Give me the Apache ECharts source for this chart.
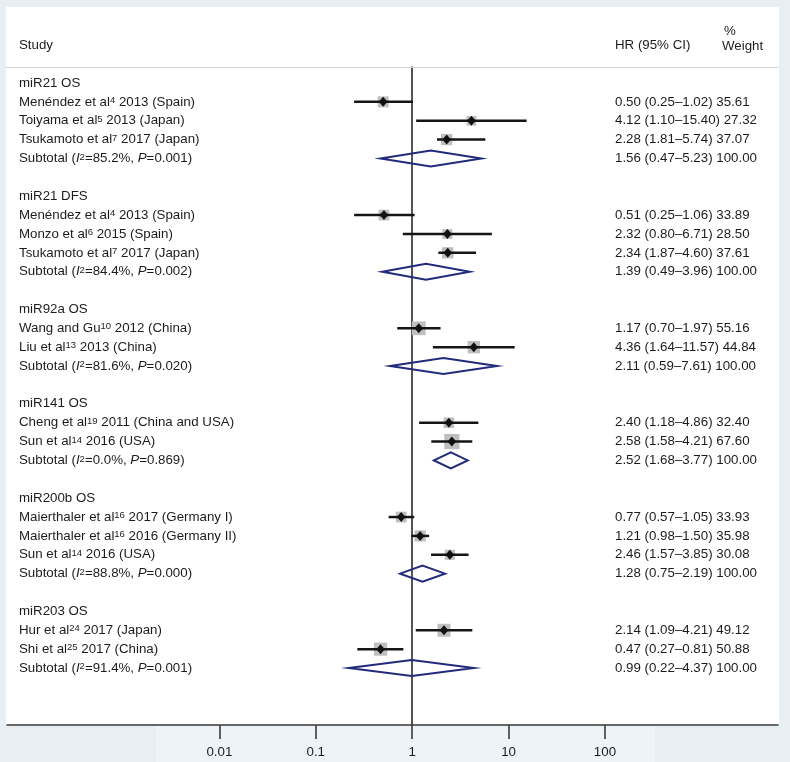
<!DOCTYPE html>
<html>
<head>
<meta charset="utf-8">
<script src="https://cdn.jsdelivr.net/npm/echarts@6.0.0/dist/echarts.min.js"></script>
<style>
html,body{margin:0;padding:0;background:#e8eff2;}
#chart{width:790px;height:762px;}
</style>
</head>
<body>
<div id="chart"></div>
<script>
// ---- data ----
const rowLabels = [
  'miR21 OS',
  'Menéndez et al{sup|4} 2013 (Spain)',
  'Toiyama et al{sup|5} 2013 (Japan)',
  'Tsukamoto et al{sup|7} 2017 (Japan)',
  'Subtotal ({it|I}{sup|2}=85.2%, {it|P}=0.001)',
  '',
  'miR21 DFS',
  'Menéndez et al{sup|4} 2013 (Spain)',
  'Monzo et al{sup|6} 2015 (Spain)',
  'Tsukamoto et al{sup|7} 2017 (Japan)',
  'Subtotal ({it|I}{sup|2}=84.4%, {it|P}=0.002)',
  '',
  'miR92a OS',
  'Wang and Gu{sup|10} 2012 (China)',
  'Liu et al{sup|13} 2013 (China)',
  'Subtotal ({it|I}{sup|2}=81.6%, {it|P}=0.020)',
  '',
  'miR141 OS',
  'Cheng et al{sup|19} 2011 (China and USA)',
  'Sun et al{sup|14} 2016 (USA)',
  'Subtotal ({it|I}{sup|2}=0.0%, {it|P}=0.869)',
  '',
  'miR200b OS',
  'Maierthaler et al{sup|16} 2017 (Germany I)',
  'Maierthaler et al{sup|16} 2016 (Germany II)',
  'Sun et al{sup|14} 2016 (USA)',
  'Subtotal ({it|I}{sup|2}=88.8%, {it|P}=0.000)',
  '',
  'miR203 OS',
  'Hur et al{sup|24} 2017 (Japan)',
  'Shi et al{sup|25} 2017 (China)',
  'Subtotal ({it|I}{sup|2}=91.4%, {it|P}=0.001)'
];
const rowKinds = [
  'group','study','study','study','subtotal','blank',
  'group','study','study','study','subtotal','blank',
  'group','study','study','subtotal','blank',
  'group','study','study','subtotal','blank',
  'group','study','study','study','subtotal','blank',
  'group','study','study','subtotal'
];
const hr = [null,0.50,4.12,2.28,1.56,null, null,0.51,2.32,2.34,1.39,null, null,1.17,4.36,2.11,null, null,2.40,2.58,2.52,null, null,0.77,1.21,2.46,1.28,null, null,2.14,0.47,0.99];
const ciLow = [null,0.25,1.10,1.81,0.47,null, null,0.25,0.80,1.87,0.49,null, null,0.70,1.64,0.59,null, null,1.18,1.58,1.68,null, null,0.57,0.98,1.57,0.75,null, null,1.09,0.27,0.22];
const ciHigh = [null,1.02,15.40,5.74,5.23,null, null,1.06,6.71,4.60,3.96,null, null,1.97,11.57,7.61,null, null,4.86,4.21,3.77,null, null,1.05,1.50,3.85,2.19,null, null,4.21,0.81,4.37];
const weight = [null,35.61,27.32,37.07,100.00,null, null,33.89,28.50,37.61,100.00,null, null,55.16,44.84,100.00,null, null,32.40,67.60,100.00,null, null,33.93,35.98,30.08,100.00,null, null,49.12,50.88,100.00];
const tickValues = [0.01, 0.1, 1, 10, 100];
const tickLabels = ['0.01', '0.1', '1', '10', '100'];

// ---- styles ----
const FONT_FAMILY = '"Liberation Sans", Arial, Helvetica, sans-serif';
const FS = 13.3;
const TEXT_COLOR = '#1c1c1c';
const richStyles = {
  sup: {fontSize: 9.5, lineHeight: 9, verticalAlign: 'top', fontFamily: FONT_FAMILY, fill: TEXT_COLOR},
  it: {fontSize: FS, fontStyle: 'italic', fontFamily: FONT_FAMILY, fill: TEXT_COLOR}
};

const logTicks = tickValues.map(v => Math.log10(v));
const markData = [];
hr.forEach((v, i) => {
  if (v != null) {
    markData.push([i, Math.log10(v), Math.log10(ciLow[i]), Math.log10(ciHigh[i]), weight[i], rowKinds[i] === 'subtotal' ? 1 : 0]);
  }
});
const textData = rowLabels.map((_, i) => [i]);

function fmt(v) { return v.toFixed(2); }

const chart = echarts.init(document.getElementById('chart'), null, {renderer: 'canvas'});

const option = {
  animation: false,
  backgroundColor: '#e8eff2',
  graphic: [
    {type: 'rect', z: -10, shape: {x: 6, y: 7, width: 773, height: 718}, style: {fill: '#ffffff'}},
    {type: 'rect', z: -10, shape: {x: 156, y: 726, width: 499, height: 36}, style: {fill: '#edf3f6'}},
    {type: 'text', style: {text: 'Study', x: 19, y: 45, verticalAlign: 'middle', font: FS + 'px ' + FONT_FAMILY, fill: TEXT_COLOR}},
    {type: 'text', style: {text: 'HR (95% CI)', x: 615, y: 45, verticalAlign: 'middle', font: FS + 'px ' + FONT_FAMILY, fill: TEXT_COLOR}},
    {type: 'text', style: {text: '%', x: 724, y: 31, verticalAlign: 'middle', font: FS + 'px ' + FONT_FAMILY, fill: TEXT_COLOR}},
    {type: 'text', style: {text: 'Weight', x: 722, y: 46, verticalAlign: 'middle', font: FS + 'px ' + FONT_FAMILY, fill: TEXT_COLOR}}
  ],
  grid: {left: 7, right: 12, top: 67, bottom: 37, containLabel: false},
  xAxis: [
    {
      type: 'value', min: -4.203, max: 3.795, position: 'bottom',
      axisLine: {show: true, onZero: false, lineStyle: {color: '#3a3a3a', width: 1.6}},
      axisTick: {show: true, customValues: logTicks, length: 14, lineStyle: {color: '#3a3a3a', width: 1.6}},
      axisLabel: {
        show: true, customValues: logTicks, margin: 21,
        fontFamily: FONT_FAMILY, fontSize: FS, color: TEXT_COLOR,
        formatter: function (v) {
          let best = 0;
          logTicks.forEach((t, k) => { if (Math.abs(t - v) < Math.abs(logTicks[best] - v)) best = k; });
          return tickLabels[best];
        }
      },
      splitLine: {show: false}
    },
    {
      type: 'value', min: -4.203, max: 3.795, position: 'top',
      axisLine: {show: true, onZero: false, lineStyle: {color: '#cfcfcf', width: 1.2}},
      axisTick: {show: false}, axisLabel: {show: false}, splitLine: {show: false}
    }
  ],
  yAxis: {
    type: 'value', min: -0.848, max: 34.02, inverse: true,
    axisLine: {show: true, onZero: true, onZeroAxisIndex: 0, lineStyle: {color: '#2a2a2a', width: 1.6}},
    axisTick: {show: false}, axisLabel: {show: false}, splitLine: {show: false}
  },
  series: [
    {
      type: 'custom',
      name: 'marks',
      xAxisIndex: 0,
      clip: false,
      data: markData,
      renderItem: function (params, api) {
        const row = api.value(0);
        const c = api.coord([api.value(1), row]);
        const xl = api.coord([api.value(2), row])[0];
        const xh = api.coord([api.value(3), row])[0];
        const y = c[1];
        const xc = c[0];
        if (api.value(5) === 1) {
          return {
            type: 'polygon',
            shape: {points: [[xl, y], [xc, y - 8], [xh, y], [xc, y + 8]]},
            style: {fill: 'none', stroke: '#222a7c', lineWidth: 2}
          };
        }
        const s = 1.85 * Math.sqrt(api.value(4));
        return {
          type: 'group',
          children: [
            {type: 'rect', shape: {x: xc - s / 2, y: y - s / 2, width: s, height: s}, style: {fill: '#bfbfbf'}},
            {type: 'line', shape: {x1: xl, y1: y, x2: xh, y2: y}, style: {stroke: '#151515', lineWidth: 2.5}},
            {type: 'polygon', shape: {points: [[xc - 4.3, y], [xc, y - 5], [xc + 4.3, y], [xc, y + 5]]}, style: {fill: '#111111'}}
          ]
        };
      }
    },
    {
      type: 'custom',
      name: 'texts',
      xAxisIndex: 0,
      clip: false,
      data: textData,
      renderItem: function (params, api) {
        const i = api.value(0);
        const y = api.coord([0, i])[1];
        const left = params.coordSys.x + 12;
        const children = [];
        if (rowLabels[i]) {
          children.push({
            type: 'text',
            style: {
              text: rowLabels[i], x: left, y: y, verticalAlign: 'middle', align: 'left',
              fontFamily: FONT_FAMILY, fontSize: FS, fill: TEXT_COLOR, rich: richStyles
            }
          });
        }
        if (hr[i] != null) {
          children.push({
            type: 'text',
            style: {
              text: fmt(hr[i]) + ' (' + fmt(ciLow[i]) + '–' + fmt(ciHigh[i]) + ') ' + fmt(weight[i]),
              x: 615, y: y, verticalAlign: 'middle', align: 'left',
              fontFamily: FONT_FAMILY, fontSize: FS, fill: TEXT_COLOR
            }
          });
        }
        return {type: 'group', children: children};
      }
    }
  ]
};
chart.setOption(option);
</script>
</body>
</html>
